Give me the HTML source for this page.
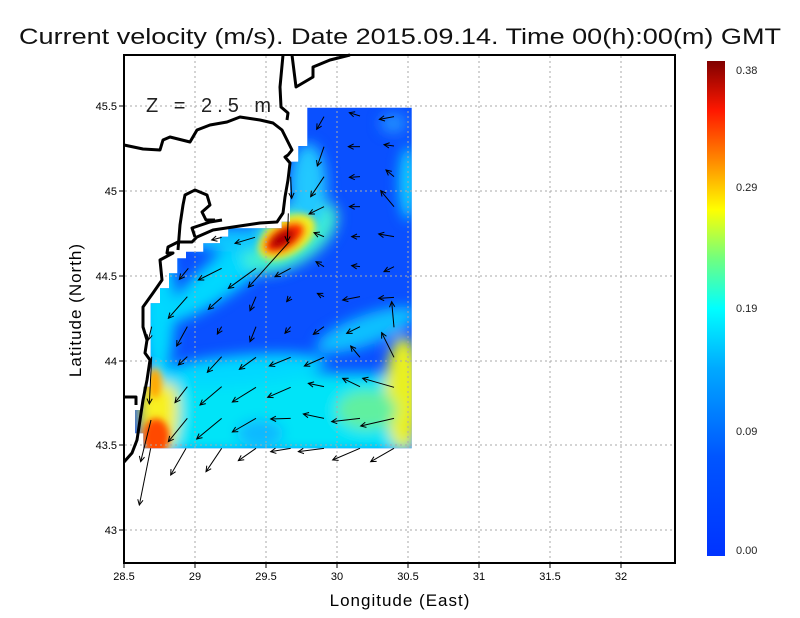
<!DOCTYPE html>
<html><head><meta charset="utf-8"><style>
html,body{margin:0;padding:0;background:#fff}
svg{display:block}
text{font-family:"Liberation Sans",sans-serif}
</style></head><body>
<svg width="800" height="618" viewBox="0 0 800 618" xmlns="http://www.w3.org/2000/svg">
<defs>
<clipPath id="dc"><polygon points="307.3,107.7 411.7,107.7 411.7,448.3 143.3,448.3 143.3,433.3 135,433.3 135,410 143.3,410 143.3,386.7 150.7,386.7 150.7,303.3 160,303.3 160,288.3 169,288.3 169,273.3 177.3,273.3 177.3,258.3 186,258.3 186,251.7 203.3,251.7 203.3,243.3 220,243.3 220,236.7 228.3,236.7 228.3,228.3 281.7,228.3 281.7,221.7 290,221.7 290,161.7 298.3,161.7 298.3,146 307.3,146"/></clipPath>
<filter id="bl" x="-50%" y="-50%" width="200%" height="200%"><feGaussianBlur stdDeviation="20"/></filter>
<filter id="bl2" x="-50%" y="-50%" width="200%" height="200%"><feGaussianBlur stdDeviation="10"/></filter>
<linearGradient id="cb" x1="0" y1="1" x2="0" y2="0">
<stop offset="0" stop-color="#0033ff"/><stop offset="0.2" stop-color="#0055ff"/><stop offset="0.38" stop-color="#00aaff"/><stop offset="0.5" stop-color="#00ffff"/><stop offset="0.6" stop-color="#70ff80"/><stop offset="0.7" stop-color="#ffff00"/><stop offset="0.8" stop-color="#ff8800"/><stop offset="0.9" stop-color="#ff1800"/><stop offset="1" stop-color="#800000"/>
</linearGradient>
<marker id="ah" markerUnits="userSpaceOnUse" markerWidth="24" markerHeight="24" refX="20" refY="12" orient="auto" viewBox="0 0 24 24"><path d="M4,4 L20,12 L4,20" fill="none" stroke="#000" stroke-width="3"/></marker>
</defs>
<text x="400" y="44" font-size="22" text-anchor="middle" textLength="762" lengthAdjust="spacingAndGlyphs" fill="#111">Current velocity (m/s). Date 2015.09.14. Time 00(h):00(m) GMT</text>

<!-- heatmap -->
<g clip-path="url(#dc)">
<g transform="translate(100,40) scale(0.33333)">
<rect x="90" y="190" width="860" height="1050" fill="#0a50ff"/>
<g filter="url(#bl)">
<rect x="120" y="1000" width="830" height="240" fill="#00e4f8"/>
<ellipse cx="480" cy="1180" rx="70" ry="40" fill="#10b8ff"/>
<ellipse cx="910" cy="1060" rx="55" ry="170" fill="#e8f020"/>
<ellipse cx="800" cy="1110" rx="90" ry="60" fill="#60f0a0"/>
<ellipse cx="175" cy="1110" rx="60" ry="140" fill="#f8f020"/>
<ellipse cx="175" cy="800" rx="50" ry="220" fill="#00d8ff"/>
<ellipse cx="420" cy="990" rx="260" ry="45" fill="#00d8ff" transform="rotate(-5 420 990)"/>
<ellipse cx="430" cy="660" rx="290" ry="60" fill="#00d8ff" transform="rotate(-38 430 660)"/>
<ellipse cx="570" cy="590" rx="160" ry="85" fill="#40f0d0" transform="rotate(-32 570 590)"/>
<ellipse cx="625" cy="440" rx="55" ry="130" fill="#20c8ff"/>
<ellipse cx="800" cy="870" rx="160" ry="45" fill="#10c0ff" transform="rotate(-20 800 870)"/>
<ellipse cx="925" cy="430" rx="28" ry="110" fill="#10d0ff"/>
<ellipse cx="880" cy="250" rx="40" ry="30" fill="#2090ff"/>
<ellipse cx="400" cy="600" rx="130" ry="35" fill="#10c8ff"/>
</g>
<g filter="url(#bl2)">
<ellipse cx="560" cy="590" rx="95" ry="55" fill="#f0f020" transform="rotate(-32 560 590)"/>
<ellipse cx="553" cy="594" rx="70" ry="38" fill="#ff3000" transform="rotate(-32 553 594)"/>
<ellipse cx="548" cy="596" rx="42" ry="22" fill="#b00000" transform="rotate(-32 548 596)"/>
<ellipse cx="168" cy="1190" rx="40" ry="55" fill="#ff4800"/>
<ellipse cx="165" cy="1030" rx="20" ry="45" fill="#ffa800"/>
</g>
</g>
</g>

<!-- grid -->
<g stroke="#aaa" stroke-width="1" stroke-dasharray="2,3">
<line x1="195" y1="56" x2="195" y2="562"/><line x1="266" y1="56" x2="266" y2="562"/><line x1="337" y1="56" x2="337" y2="562"/><line x1="408" y1="56" x2="408" y2="562"/><line x1="479" y1="56" x2="479" y2="562"/><line x1="550" y1="56" x2="550" y2="562"/><line x1="621" y1="56" x2="621" y2="562"/>
<line x1="125" y1="106" x2="674" y2="106"/><line x1="125" y1="191" x2="674" y2="191"/><line x1="125" y1="276" x2="674" y2="276"/><line x1="125" y1="361" x2="674" y2="361"/><line x1="125" y1="445" x2="674" y2="445"/><line x1="125" y1="530" x2="674" y2="530"/>
</g>

<!-- coastline -->
<g fill="none" stroke="#000" stroke-width="3" stroke-linejoin="round">
<polyline points="124,145 143,149 160,150 163,140 170,137 190,142 197,130 210,125 227,122 240,117 260,120 273,123 282,130 287,140 292,150 288,155 285,157 290,163 288,180 285,197 283,213 277,222 260,223 233,227 213,230 197,237 192,242 178,242 168,247 167,253 173,253 160,260 162,280 153,293 143,307 143,327 147,340 145,353 150,360 147,380 143,400 140,420 137,440 132,453 124,462"/>
<polyline points="283,55 280,87 281,107 288,113 287,120"/>
<polyline points="292,55 296,87 313,77 313,67 330,60 350,55"/>
<polyline points="178,250 180,225 183,205 185,195 195,190 207,195 210,205 202,212 206,220 215,220"/>
<polyline points="195,237 192,228 210,222 222,220"/>
<polyline points="124,397 136,397 136,405"/>
</g>

<!-- arrows -->
<g transform="translate(100,40) scale(0.33333)" stroke="#000" stroke-width="3" fill="none" marker-end="url(#ah)">
<line x1="672" y1="230" x2="650" y2="268"/><line x1="780" y1="228" x2="748" y2="218"/><line x1="882" y1="230" x2="838" y2="238"/>
<line x1="672" y1="320" x2="652" y2="378"/><line x1="780" y1="320" x2="745" y2="320"/><line x1="882" y1="318" x2="852" y2="314"/>
<line x1="672" y1="410" x2="632" y2="470"/><line x1="780" y1="410" x2="748" y2="412"/><line x1="882" y1="410" x2="858" y2="390"/>
<line x1="572" y1="410" x2="575" y2="475"/><line x1="672" y1="500" x2="627" y2="522"/><line x1="780" y1="500" x2="748" y2="500"/><line x1="882" y1="500" x2="842" y2="452"/>
<line x1="565" y1="520" x2="562" y2="605"/><line x1="672" y1="590" x2="642" y2="578"/><line x1="780" y1="590" x2="755" y2="590"/><line x1="882" y1="590" x2="836" y2="582"/>
<line x1="465" y1="592" x2="405" y2="610"/><line x1="365" y1="592" x2="335" y2="600"/>
<line x1="568" y1="605" x2="445" y2="742"/><line x1="468" y1="685" x2="385" y2="745"/><line x1="365" y1="685" x2="295" y2="720"/><line x1="265" y1="685" x2="238" y2="718"/>
<line x1="572" y1="685" x2="525" y2="710"/><line x1="672" y1="680" x2="648" y2="665"/><line x1="780" y1="680" x2="755" y2="677"/><line x1="882" y1="680" x2="852" y2="695"/>
<line x1="262" y1="770" x2="205" y2="835"/><line x1="365" y1="772" x2="325" y2="808"/><line x1="468" y1="770" x2="450" y2="812"/><line x1="572" y1="770" x2="560" y2="785"/><line x1="672" y1="770" x2="652" y2="760"/><line x1="780" y1="770" x2="728" y2="780"/><line x1="882" y1="772" x2="836" y2="775"/>
<line x1="262" y1="860" x2="230" y2="918"/><line x1="365" y1="860" x2="352" y2="882"/><line x1="468" y1="860" x2="450" y2="905"/><line x1="572" y1="860" x2="555" y2="880"/><line x1="672" y1="860" x2="640" y2="883"/><line x1="780" y1="860" x2="740" y2="880"/><line x1="882" y1="862" x2="875" y2="785"/>
<line x1="155" y1="860" x2="145" y2="900"/>
<line x1="262" y1="950" x2="235" y2="975"/><line x1="365" y1="950" x2="322" y2="997"/><line x1="468" y1="952" x2="418" y2="988"/><line x1="572" y1="952" x2="508" y2="978"/><line x1="672" y1="952" x2="613" y2="978"/><line x1="780" y1="952" x2="752" y2="918"/><line x1="882" y1="952" x2="845" y2="878"/>
<line x1="262" y1="1040" x2="225" y2="1088"/><line x1="365" y1="1040" x2="300" y2="1095"/><line x1="468" y1="1042" x2="397" y2="1086"/><line x1="572" y1="1042" x2="503" y2="1072"/><line x1="672" y1="1040" x2="625" y2="1030"/><line x1="780" y1="1040" x2="728" y2="1015"/><line x1="882" y1="1042" x2="788" y2="1015"/>
<line x1="155" y1="950" x2="148" y2="1092"/>
<line x1="262" y1="1135" x2="205" y2="1205"/><line x1="365" y1="1135" x2="290" y2="1197"/><line x1="468" y1="1135" x2="397" y2="1176"/><line x1="572" y1="1135" x2="512" y2="1137"/><line x1="672" y1="1135" x2="610" y2="1122"/><line x1="780" y1="1135" x2="695" y2="1145"/><line x1="882" y1="1135" x2="782" y2="1158"/>
<line x1="153" y1="1140" x2="122" y2="1265"/>
<line x1="152" y1="1225" x2="118" y2="1395"/><line x1="258" y1="1225" x2="212" y2="1305"/><line x1="365" y1="1225" x2="318" y2="1295"/><line x1="468" y1="1225" x2="415" y2="1262"/><line x1="572" y1="1225" x2="512" y2="1235"/><line x1="672" y1="1225" x2="595" y2="1235"/><line x1="780" y1="1225" x2="698" y2="1260"/><line x1="882" y1="1225" x2="812" y2="1265"/>
</g>

<text x="146" y="112" font-size="20" letter-spacing="5" fill="#222">Z = 2.5 m</text>

<!-- frame -->
<rect x="124" y="55" width="551" height="508" fill="none" stroke="#000" stroke-width="2"/>
<g stroke="#000" stroke-width="1">
<line x1="124" y1="563" x2="124" y2="568"/><line x1="195" y1="563" x2="195" y2="568"/><line x1="266" y1="563" x2="266" y2="568"/><line x1="337" y1="563" x2="337" y2="568"/><line x1="408" y1="563" x2="408" y2="568"/><line x1="479" y1="563" x2="479" y2="568"/><line x1="550" y1="563" x2="550" y2="568"/><line x1="621" y1="563" x2="621" y2="568"/>
<line x1="119" y1="106" x2="124" y2="106"/><line x1="119" y1="191" x2="124" y2="191"/><line x1="119" y1="276" x2="124" y2="276"/><line x1="119" y1="361" x2="124" y2="361"/><line x1="119" y1="445" x2="124" y2="445"/><line x1="119" y1="530" x2="124" y2="530"/>
</g>
<g font-size="11" text-anchor="middle">
<text x="124" y="580">28.5</text><text x="195" y="580">29</text><text x="266" y="580">29.5</text><text x="337" y="580">30</text><text x="408" y="580">30.5</text><text x="479" y="580">31</text><text x="550" y="580">31.5</text><text x="621" y="580">32</text>
</g>
<g font-size="11" text-anchor="end">
<text x="117" y="110">45.5</text><text x="117" y="195">45</text><text x="117" y="280">44.5</text><text x="117" y="365">44</text><text x="117" y="449">43.5</text><text x="117" y="534">43</text>
</g>
<text x="400" y="606" font-size="17" text-anchor="middle" letter-spacing="1">Longitude (East)</text>
<text transform="translate(81,310) rotate(-90)" font-size="17" text-anchor="middle" letter-spacing="1">Latitude (North)</text>

<!-- colorbar -->
<rect x="707" y="61" width="18" height="495" fill="url(#cb)"/>
<g font-size="11" fill="#222">
<text x="736" y="74">0.38</text><text x="736" y="191">0.29</text><text x="736" y="312">0.19</text><text x="736" y="435">0.09</text><text x="736" y="554">0.00</text>
</g>
</svg>
</body></html>
